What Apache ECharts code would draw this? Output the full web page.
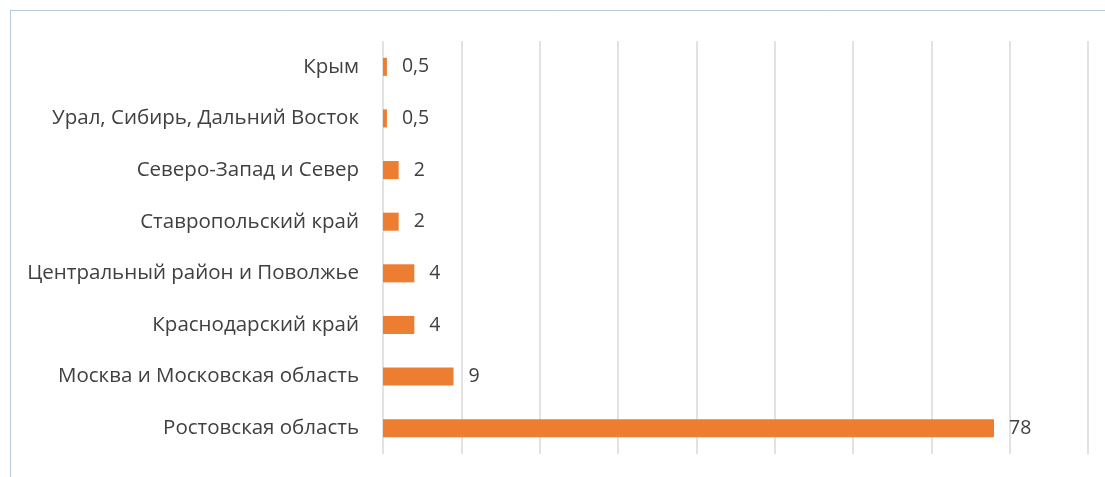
<!DOCTYPE html>
<html><head><meta charset="utf-8">
<script src="https://cdn.jsdelivr.net/npm/echarts@6/dist/echarts.min.js"></script>
<style>html,body{margin:0;padding:0;background:#fff}#c{width:1105px;height:477px}</style>
</head><body><div id="c"></div>
<script>
const categories = ["Ростовская область","Москва и Московская область","Краснодарский край","Центральный район и Поволжье","Ставропольский край","Северо-Запад и Север","Урал, Сибирь, Дальний Восток","Крым"];
const values = [78, 9, 4, 4, 2, 2, 0.5, 0.5];
const chart = echarts.init(document.getElementById('c'));
chart.setOption({
  animation: false,
  graphic: [
    {type:'line', shape:{x1:10,y1:10.5,x2:1105,y2:10.5}, style:{stroke:'#b9c7d8',lineWidth:1}},
    {type:'line', shape:{x1:10.5,y1:10,x2:10.5,y2:477}, style:{stroke:'#b9c7d8',lineWidth:1}}
  ],
  grid: {left:383, right:17, top:41, bottom:23, containLabel:false},
  xAxis: {type:'value', min:0, max:90, interval:10,
    axisLabel:{show:false}, axisLine:{show:false}, axisTick:{show:false},
    splitLine:{show:true, lineStyle:{color:'#d9d9d9', width:1.5}}},
  yAxis: {type:'category', data:categories,
    axisLine:{show:false}, axisTick:{show:false},
    axisLabel:{color:'#404040', fontSize:20.5, fontFamily:'Open Sans', margin:24}},
  series: [{type:'bar', data:values, barCategoryGap:'65%',
    itemStyle:{color:'#ED7D31'},
    label:{show:true, position:'right', distance:15, color:'#404040', fontSize:19.5, fontFamily:'Open Sans',
      formatter: p => String(p.value).replace('.', ',')}}]
});
</script></body></html>
